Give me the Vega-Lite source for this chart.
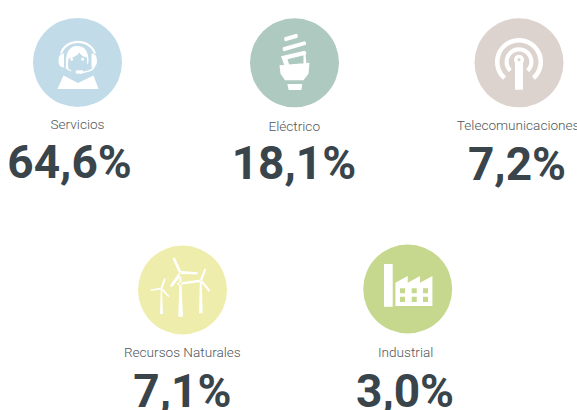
{
"$schema":"https://vega.github.io/schema/vega-lite/v6.json",
"width":577,"height":410,"padding":0,"autosize":{"type":"none"},
"background":"white",
"config":{"view":{"stroke":null}},
"data":{"values":[
{"sector":"Servicios","share":"64,6%","iconX":13.43,"iconY":15.24,"labelX":13.43,"labelY":31.46,"valueX":12.05,"valueY":43.4},
{"sector":"Eléctrico","share":"18,1%","iconX":51.04,"iconY":15.32,"labelX":51.0,"labelY":32.0,"valueX":50.95,"valueY":43.65},
{"sector":"Telecomunicaciones","share":"7,2%","iconX":89.95,"iconY":15.32,"labelX":89.8,"labelY":31.7,"valueX":89.6,"valueY":44.0},
{"sector":"Recursos Naturales","share":"7,1%","iconX":31.63,"iconY":70.73,"labelX":31.6,"labelY":87.05,"valueX":31.6,"valueY":99.3},
{"sector":"Industrial","share":"3,0%","iconX":70.66,"iconY":70.49,"labelX":70.3,"labelY":87.05,"valueX":70.2,"valueY":99.3}
]},
"layer":[
{"mark":{"type":"point","shape":"circle","filled":true,"opacity":1,"strokeWidth":0},
 "encoding":{
  "x":{"field":"iconX","type":"quantitative","axis":null,"scale":{"domain":[0,100],"nice":false,"zero":false}},
  "y":{"field":"iconY","type":"quantitative","axis":null,"scale":{"domain":[100,0],"nice":false,"zero":false}},
  "color":{"field":"sector","type":"nominal","legend":null,"scale":{"domain":["Servicios","Eléctrico","Telecomunicaciones","Recursos Naturales","Industrial"],"range":["#c1dce8","#aec9bf","#ddd3ce","#efedab","#c6d88e"]}},
  "size":{"value":7921}
 }},
{"mark":{"type":"point","filled":true,"fill":"#ffffff","opacity":1,"strokeWidth":0,"size":4},
 "encoding":{
  "x":{"field":"iconX","type":"quantitative"},
  "y":{"field":"iconY","type":"quantitative"},
  "shape":{"field":"sector","type":"nominal","legend":null,"scale":{"domain":["Servicios","Eléctrico","Telecomunicaciones","Recursos Naturales","Industrial"],"range":[
   "M-20 26.5L-14 13L0.5 20.5L16 13L21 26.5ZM-17.5 -9A18.5 16.5 0 0 1 18.5 -9L16.3 -9A16.3 14 0 0 0 -15.3 -9ZM-13.5 -9Q-19 -9 -19 -2Q-19 5 -13.5 5ZM14 -9Q19.5 -9 19.5 -2Q19.5 5 14 5ZM-11.5 6Q-13 -16.5 -0.5 -16.5Q11.5 -16.5 11 0L9.5 2Q10 -4 9 -5Q4 -6 2 -10Q-2 -5 -9 -4Q-10 2 -9 6ZM-5.8 -4.7A1.5 1.5 0 1 1 -5.8 -1.7A1.5 1.5 0 1 1 -5.8 -4.7ZM5.2 -4.7A1.5 1.5 0 1 1 5.2 -1.7A1.5 1.5 0 1 1 5.2 -4.7ZM16 4L17.8 4Q16 9 6 10.5L6 9Q14 8 16 4ZM-2 9.5Q-2 7.7 0 7.7L5 7.7Q7 9.5 5 11.3L0 11.3Q-2 11.3 -2 9.5ZM-12.5 5L-11 4.5Q-9 7 -6 8L-6 9Q-10 8 -12.5 5Z",
   "M-10 -25.5L2 -29Q4 -28 3 -25L-9 -21.5Q-11 -22 -10 -25.5ZM-11.5 -15.5L10 -21.5Q12 -21 11.5 -18L-10.5 -11.5Q-12.5 -12 -11.5 -15.5ZM-13.5 -6.5L10 -12Q12.5 -11.5 11.5 -8L-7 -3.5L-5 3L-10 3ZM-15 2.5L15 0L14 11L9 17.5L-9.5 17.5L-14 11ZM9 -8L11 -8L12 1L9 1ZM-7.2 21.3L7.8 21.3L6.8 27.3L-5.8 27.3Z",
   "M-16 17A24 24 0 1 1 16 17L13 13.6A19.5 19.5 0 1 0 -13 13.6ZM-10 9.5A14.5 14.5 0 1 1 10 9.5L7.2 6.3A10.3 10.3 0 1 0 -7.2 6.3ZM-4 27L-4 0A5 5 0 1 1 4 0L4 27ZM0 -4.5A1.5 1.5 0 1 0 0 -1.5A1.5 1.5 0 1 0 0 -4.5Z",
   "M-4.2 26.7L-3 -16L-1.5 -16L0.5 26.7ZM-3.5 -17L-9.8 -31Q-9.5 -33.5 -7.5 -32L-1 -18ZM-1 -19L15 -17.8Q16 -16 14 -15.5L-1.5 -16ZM-3 -18L-12.5 -4.5Q-12 -2.5 -10 -3.5L-1 -15ZM16.5 23.3L17.3 -8L19.2 -8L20.2 23.3ZM17 -9.5L22 -21.5Q23.5 -22 23.5 -20L19.5 -9ZM18 -10.5L-5.5 -7Q-6 -5.5 -4.5 -5L18 -8ZM17.5 -9L26 1.5Q27.5 1.5 27.5 0L19.5 -10ZM-22.5 24L-21.8 0L-20.5 0L-19.5 24ZM-22 -2L-18.5 -11.5Q-17 -12 -17 -10.5L-20 -1.5ZM-21 -2.5L-32 -0.5Q-32 0.5 -31 1L-21 -0.8ZM-22 -1L-14.5 7Q-13.5 7 -13.3 6L-20.5 -2.5Z",
   "M-23.7 -25L-15 -25L-15 17.7L-23.7 17.7ZM-12.3 17L-12.3 -6.3L0 -13L0 -6.3L12.3 -13L12.3 -6.3L24.7 -13L24.7 17ZM-7.7 -0.7L-7.7 4.3L-2.7 4.3L-2.7 -0.7ZM4 -0.7L4 4.3L9 4.3L9 -0.7ZM15.3 -0.7L15.3 4.3L20.3 4.3L20.3 -0.7ZM-7.7 7.7L-7.7 13L-2.7 13L-2.7 7.7ZM4 7.7L4 13L9 13L9 7.7ZM15.3 7.7L15.3 13L20.3 13L20.3 7.7Z"
  ]}}
 }},
{"mark":{"type":"text","font":"Roboto","fontSize":13.6,"fontWeight":300,"fill":"#4f565a","align":"center","baseline":"alphabetic"},
 "encoding":{
  "x":{"field":"labelX","type":"quantitative"},
  "y":{"field":"labelY","type":"quantitative"},
  "text":{"field":"sector","type":"nominal"}
 }},
{"mark":{"type":"text","font":"Roboto","fontSize":46,"fontWeight":"bold","fill":"#39444b","align":"center","baseline":"alphabetic"},
 "encoding":{
  "x":{"field":"valueX","type":"quantitative"},
  "y":{"field":"valueY","type":"quantitative"},
  "text":{"field":"share","type":"nominal"}
 }}
]
}
